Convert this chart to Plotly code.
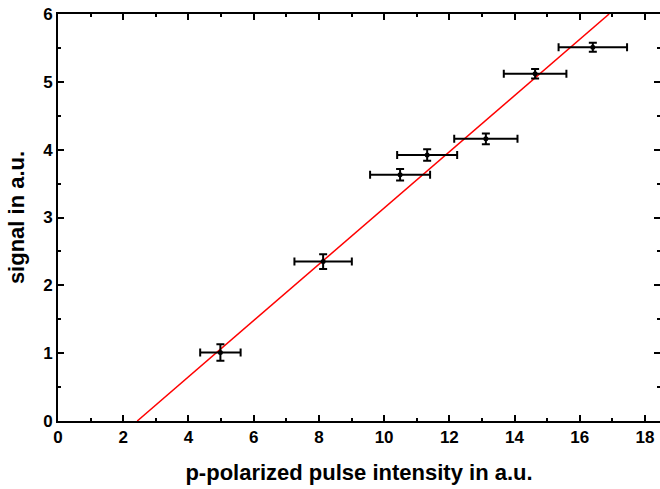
import plotly.graph_objects as go

# Data
intensity = [4.98, 8.13, 10.49, 11.32, 13.12, 14.63, 16.40]
intensity_err = [0.62, 0.88, 0.92, 0.92, 0.97, 0.96, 1.05]
signal = [1.01, 2.35, 3.63, 3.92, 4.16, 5.12, 5.51]
signal_err = [0.12, 0.11, 0.085, 0.085, 0.08, 0.07, 0.065]

fit_x = [2.43, 16.90]
fit_y = [0.0, 6.0]

x_ticks = [0, 2, 4, 6, 8, 10, 12, 14, 16, 18]
y_ticks = [0, 1, 2, 3, 4, 5, 6]

FONT = "Liberation Sans, Arial, sans-serif"

fig = go.Figure()
fig.add_trace(go.Scatter(
    x=fit_x, y=fit_y, mode="lines",
    line=dict(color="#ff0000", width=1.5),
    showlegend=False, hoverinfo="skip",
))
fig.add_trace(go.Scatter(
    x=intensity, y=signal, mode="markers",
    marker=dict(color="black", size=5),
    error_x=dict(type="data", array=intensity_err, color="black", thickness=2, width=4),
    error_y=dict(type="data", array=signal_err, color="black", thickness=2, width=4),
    showlegend=False,
))
# invisible trace to activate the right-side tick axis
fig.add_trace(go.Scatter(x=[None], y=[None], yaxis="y2", showlegend=False, hoverinfo="skip"))

fig.update_layout(
    width=660, height=489,
    margin=dict(l=58, r=0, t=14, b=68),
    paper_bgcolor="white", plot_bgcolor="white",
    font=dict(family=FONT, color="black"),
    xaxis=dict(
        range=[0, 18.46], tickvals=x_ticks, ticktext=["<b>%d</b>" % v for v in x_ticks],
        showgrid=False, zeroline=False,
        showline=True, linecolor="black", linewidth=2, mirror="ticks",
        ticks="inside", ticklen=6, tickwidth=2, tickcolor="black",
        minor=dict(ticks="inside", dtick=1, ticklen=3, tickwidth=1.5, tickcolor="black"),
        tickfont=dict(family=FONT, size=17, color="black"),
        title=dict(text="<b>p-polarized pulse intensity in a.u.</b>",
                   font=dict(family=FONT, size=22, color="black"), standoff=18),
    ),
    yaxis=dict(
        range=[0, 6], tickvals=y_ticks, ticktext=["<b>%d</b>" % v for v in y_ticks],
        showgrid=False, zeroline=False,
        showline=True, linecolor="black", linewidth=2,
        ticks="inside", ticklen=6, tickwidth=2, tickcolor="black",
        minor=dict(ticks="inside", dtick=0.5, ticklen=3, tickwidth=1.5, tickcolor="black"),
        tickfont=dict(family=FONT, size=17, color="black"),
        title=dict(text="<b>signal in a.u.</b>",
                   font=dict(family=FONT, size=22, color="black"), standoff=12),
    ),
    yaxis2=dict(
        range=[0, 6], overlaying="y", side="right", tickvals=y_ticks,
        showticklabels=False, showgrid=False, zeroline=False, showline=False,
        ticks="inside", ticklen=6, tickwidth=2, tickcolor="black",
        minor=dict(ticks="inside", dtick=0.5, ticklen=3, tickwidth=1.5, tickcolor="black"),
    ),
)

fig.write_html("out.html")
